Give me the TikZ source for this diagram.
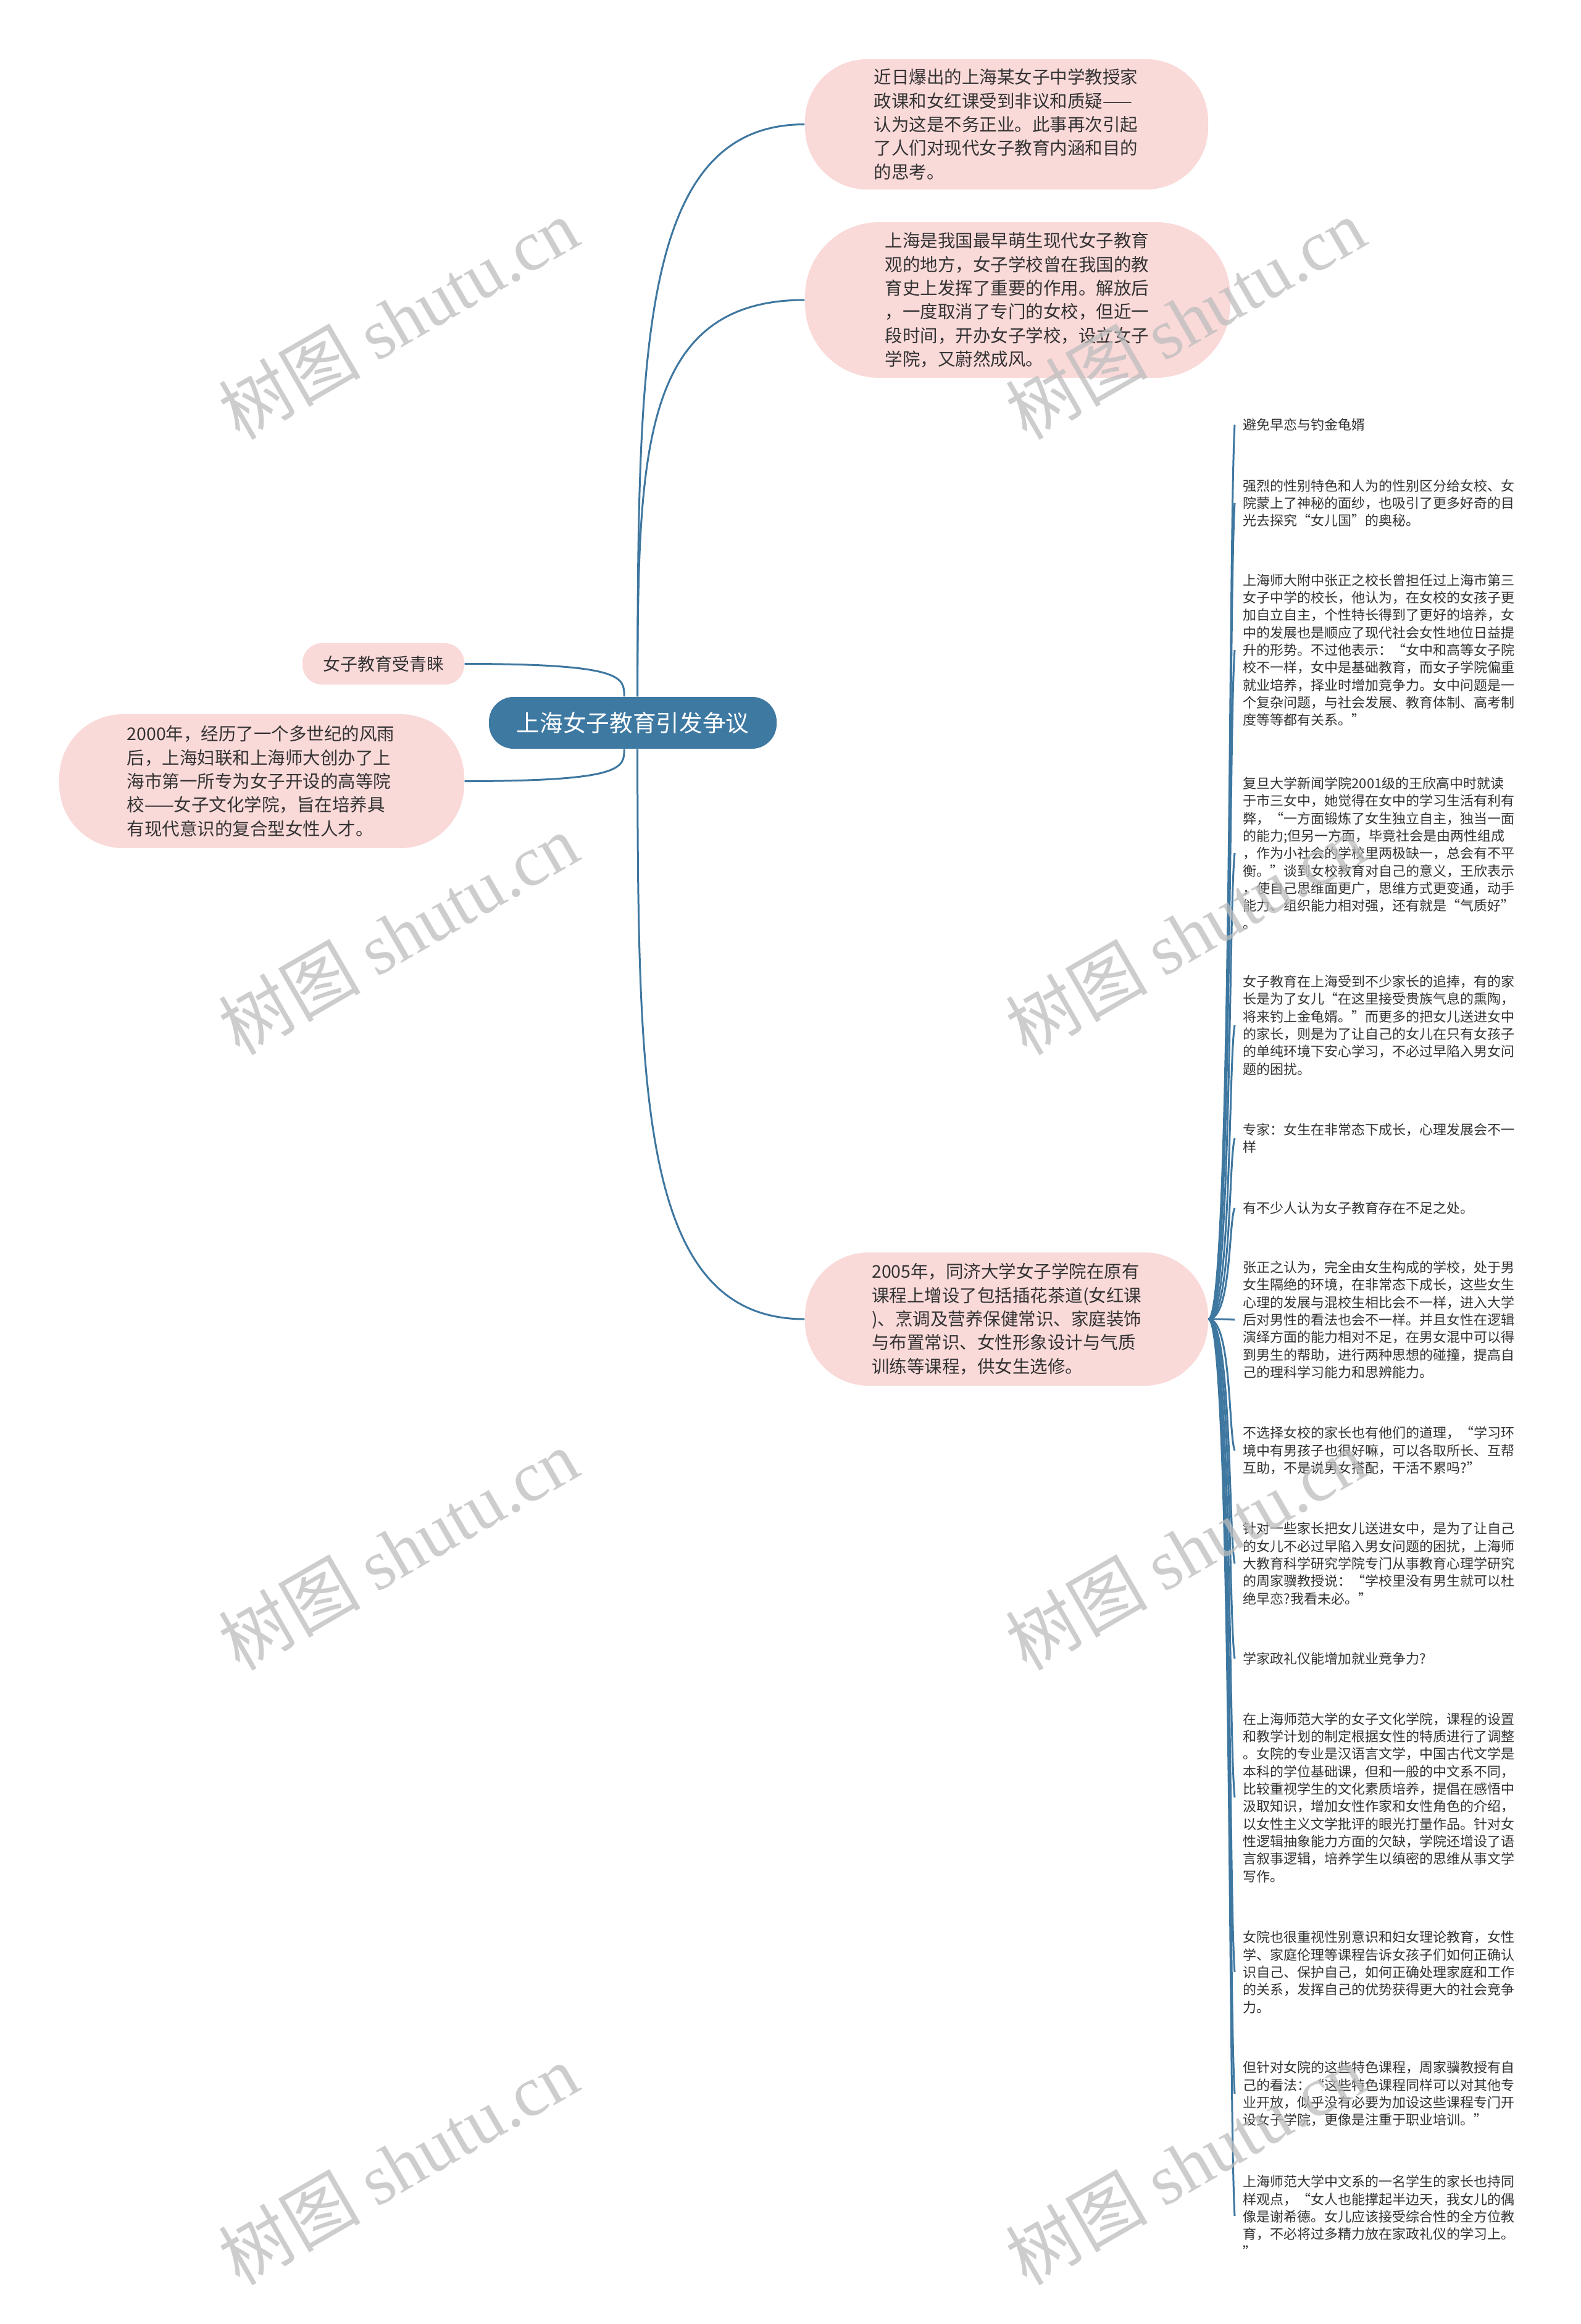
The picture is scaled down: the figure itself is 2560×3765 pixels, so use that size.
\documentclass[tikz,border=0pt]{standalone}
\usepackage{fontspec}
\setmainfont{Noto Sans CJK SC}
\newfontfamily\wmlatin{Liberation Serif}
\definecolor{pinkc}{HTML}{FAD9D9}
\definecolor{bluec}{HTML}{3E79A2}
\definecolor{linec}{HTML}{3E77A0}
\definecolor{txtc}{HTML}{333333}
\definecolor{wmc}{HTML}{BDBDBD}
\begin{document}
\begin{tikzpicture}[x=0.3pt,y=-0.3pt,
  conn/.style={draw=linec, line width=0.9pt},
  pinkbox/.style={fill=pinkc, inner sep=0pt, align=left, text=txtc,
    font=\fontsize{8.55pt}{11.5pt}\selectfont},
  cenbox/.style={fill=bluec, inner sep=0pt, align=center, text=white,
    font=\fontsize{11.3pt}{13pt}\selectfont},
  ritem/.style={anchor=west, inner xsep=3.9pt, inner ysep=0pt, align=left,
    text width=133.5pt, text=txtc, font=\fontsize{6.6pt}{8.5pt}\selectfont},
  wm/.style={rotate=30, text=wmc, text opacity=0.75, inner sep=0pt,
    font=\fontsize{34.5pt}{38pt}\selectfont}]
\useasboundingbox (0,0) rectangle (2560,3765);
\fill[white] (0,0) rectangle (2560,3765);

% main nodes
\node[cenbox, minimum width=139.8pt, minimum height=25.2pt, rounded corners=12pt] (cen) at (1025,1171) {上海女子教育引发争议};

\node[pinkbox, minimum width=195.9pt, minimum height=63.3pt, rounded corners=30pt, text width=129pt] (top1) at (1630.5,201.5)
{近日爆出的上海某女子中学教授家\\政课和女红课受到非议和质疑——\\认为这是不务正业。此事再次引起\\了人们对现代女子教育内涵和目的\\的思考。};

\node[pinkbox, minimum width=206.7pt, minimum height=75.6pt, rounded corners=36pt, text width=129pt] (top2) at (1648.5,486)
{上海是我国最早萌生现代女子教育\\观的地方，女子学校曾在我国的教\\育史上发挥了重要的作用。解放后\\，一度取消了专门的女校，但近一\\段时间，开办女子学校，设立女子\\学院，又蔚然成风。};

\node[pinkbox, minimum width=78.6pt, minimum height=20.1pt, rounded corners=9.5pt, align=center, font=\fontsize{8.4pt}{10pt}\selectfont] (left1) at (621,1075.5) {女子教育受青睐};

\node[pinkbox, minimum width=196.8pt, minimum height=65.1pt, rounded corners=31pt, text width=131pt] (left2) at (424,1265.5)
{2000年，经历了一个多世纪的风雨\\后，上海妇联和上海师大创办了上\\海市第一所专为女子开设的高等院\\校——女子文化学院，旨在培养具\\有现代意识的复合型女性人才。};

\node[pinkbox, minimum width=195.9pt, minimum height=64.8pt, rounded corners=31pt, text width=131pt] (n2005) at (1630.5,2137)
{2005年，同济大学女子学院在原有\\课程上增设了包括插花茶道(女红课\\)、烹调及营养保健常识、家庭装饰\\与布置常识、女性形象设计与气质\\训练等课程，供女生选修。};

% connectors from centre
\draw[conn] (cen.80) .. controls (1034,575) and (1034,201.5) .. (top1.west);
\draw[conn] (cen.80) .. controls (1034,743) and (1034,486) .. (top2.west);
\draw[conn] (cen.-80) .. controls (1034,1767) and (1034,2137) .. (n2005.west);
\draw[conn] (cen.108) .. controls (1011,1097) and (1011,1075.5) .. (left1.east);
\draw[conn] (cen.-108) .. controls (1011,1244) and (1011,1265.5) .. (left2.east);

% right column items
\node[ritem] (r1) at (2000,688) {避免早恋与钓金龟婿};
\node[ritem] (r2) at (2000,815) {强烈的性别特色和人为的性别区分给女校、女\\院蒙上了神秘的面纱，也吸引了更多好奇的目\\光去探究“女儿国”的奥秘。};
\node[ritem] (r3) at (2000,1053) {上海师大附中张正之校长曾担任过上海市第三\\女子中学的校长，他认为，在女校的女孩子更\\加自立自主，个性特长得到了更好的培养，女\\中的发展也是顺应了现代社会女性地位日益提\\升的形势。不过他表示：“女中和高等女子院\\校不一样，女中是基础教育，而女子学院偏重\\就业培养，择业时增加竞争力。女中问题是一\\个复杂问题，与社会发展、教育体制、高考制\\度等等都有关系。”};
\node[ritem] (r4) at (2000,1382) {复旦大学新闻学院2001级的王欣高中时就读\\于市三女中，她觉得在女中的学习生活有利有\\弊，“一方面锻炼了女生独立自主，独当一面\\的能力;但另一方面，毕竟社会是由两性组成\\，作为小社会的学校里两极缺一，总会有不平\\衡。”谈到女校教育对自己的意义，王欣表示\\，使自己思维面更广，思维方式更变通，动手\\能力、组织能力相对强，还有就是“气质好”\\。};
\node[ritem] (r5) at (2000,1661) {女子教育在上海受到不少家长的追捧，有的家\\长是为了女儿“在这里接受贵族气息的熏陶，\\将来钓上金龟婿。”而更多的把女儿送进女中\\的家长，则是为了让自己的女儿在只有女孩子\\的单纯环境下安心学习，不必过早陷入男女问\\题的困扰。};
\node[ritem] (r6) at (2000,1844) {专家：女生在非常态下成长，心理发展会不一\\样};
\node[ritem] (r7) at (2000,1957) {有不少人认为女子教育存在不足之处。};
\node[ritem] (r8) at (2000,2138) {张正之认为，完全由女生构成的学校，处于男\\女生隔绝的环境，在非常态下成长，这些女生\\心理的发展与混校生相比会不一样，进入大学\\后对男性的看法也会不一样。并且女性在逻辑\\演绎方面的能力相对不足，在男女混中可以得\\到男生的帮助，进行两种思想的碰撞，提高自\\己的理科学习能力和思辨能力。};
\node[ritem] (r9) at (2000,2350) {不选择女校的家长也有他们的道理，“学习环\\境中有男孩子也很好嘛，可以各取所长、互帮\\互助，不是说男女搭配，干活不累吗?”};
\node[ritem] (r10) at (2000,2533) {针对一些家长把女儿送进女中，是为了让自己\\的女儿不必过早陷入男女问题的困扰，上海师\\大教育科学研究学院专门从事教育心理学研究\\的周家骥教授说：“学校里没有男生就可以杜\\绝早恋?我看未必。”};
\node[ritem] (r11) at (2000,2687) {学家政礼仪能增加就业竞争力?};
\node[ritem] (r12) at (2000,2912) {在上海师范大学的女子文化学院，课程的设置\\和教学计划的制定根据女性的特质进行了调整\\。女院的专业是汉语言文学，中国古代文学是\\本科的学位基础课，但和一般的中文系不同，\\比较重视学生的文化素质培养，提倡在感悟中\\汲取知识，增加女性作家和女性角色的介绍，\\以女性主义文学批评的眼光打量作品。针对女\\性逻辑抽象能力方面的欠缺，学院还增设了语\\言叙事逻辑，培养学生以缜密的思维从事文学\\写作。};
\node[ritem] (r13) at (2000,3195) {女院也很重视性别意识和妇女理论教育，女性\\学、家庭伦理等课程告诉女孩子们如何正确认\\识自己、保护自己，如何正确处理家庭和工作\\的关系，发挥自己的优势获得更大的社会竞争\\力。};
\node[ritem] (r14) at (2000,3392) {但针对女院的这些特色课程，周家骥教授有自\\己的看法：“这些特色课程同样可以对其他专\\业开放，似乎没有必要为加设这些课程专门开\\设女子学院，更像是注重于职业培训。”};
\node[ritem] (r15) at (2000,3590) {上海师范大学中文系的一名学生的家长也持同\\样观点，“女人也能撑起半边天，我女儿的偶\\像是谢希德。女儿应该接受综合性的全方位教\\育，不必将过多精力放在家政礼仪的学习上。\\”};

\foreach \n/\c in {r1/862, r2/974, r3/1183, r4/1471, r5/1718, r6/1879, r7/1979, r8/2138, r9/2324, r10/2485, r11/2621, r12/2819, r13/3068, r14/3241, r15/3416}
  \draw[conn] (n2005.east) .. controls (1995,2137) and (1990,\c) .. (\n.west);

% watermarks
\foreach \wx/\wy [count=\i] in {645/516, 1920/516, 645/1513, 1920/1513, 645/2510, 1920/2510, 645/3506, 1920/3506}
  \node[wm] (wm\i) at (\wx,\wy) {树图 {\wmlatin shutu.cn}};
\end{tikzpicture}
\end{document}
